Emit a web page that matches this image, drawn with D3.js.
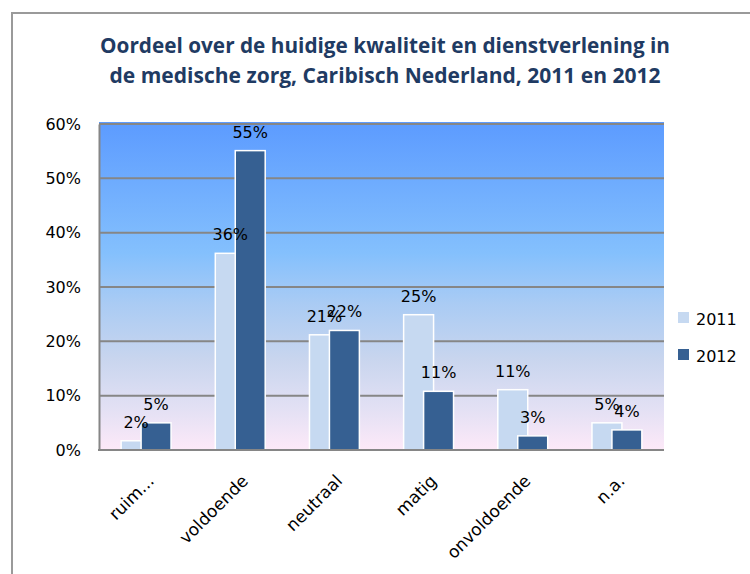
<!DOCTYPE html>
<html>
<head>
<meta charset="utf-8">
<script src="https://cdn.jsdelivr.net/npm/d3@7"></script>
<style>
  body { margin: 0; background: #fff; }
  svg { display: block; font-family: "DejaVu Sans", sans-serif; }
</style>
</head>
<body>
<div id="chart"></div>
<script>
// data
const categories = ["ruim...", "voldoende", "neutraal", "matig", "onvoldoende", "n.a."];
const years = ["2011", "2012"];
const values2011 = [1.7, 36.2, 21.2, 24.9, 11.1, 5.0];
const values2012 = [5.0, 55.1, 22.0, 10.8, 2.6, 3.7];
const yTicks = [0, 10, 20, 30, 40, 50, 60];
const titleLines = [
  "Oordeel over de huidige kwaliteit en dienstverlening in",
  "de medische zorg, Caribisch Nederland, 2011 en 2012"
];

const w = 750, h = 574;
const pLeft = 99, pRight = 664, pTop = 124, pBottom = 450;
const colors = {"2011": "#c6d9f1", "2012": "#366092"};

const svg = d3.select("#chart").append("svg")
  .attr("width", w).attr("height", h);

// outer frame
svg.append("rect")
  .attr("x", 12).attr("y", 13)
  .attr("width", w + 20).attr("height", h + 20)
  .attr("fill", "none").attr("stroke", "#9a9a9a").attr("stroke-width", 2);

// title
const title = svg.append("text")
  .attr("text-anchor", "middle")
  .attr("fill", "#1f3b63")
  .style("font-family", "'Open Sans', sans-serif")
  .style("font-weight", "bold")
  .style("font-size", "22px");
title.selectAll("tspan").data(titleLines).enter().append("tspan")
  .attr("x", 385)
  .attr("y", (d, i) => 53 + i * 30)
  .attr("textLength", (d, i) => i === 0 ? 570 : 551)
  .attr("lengthAdjust", "spacingAndGlyphs")
  .text(d => d);

// background gradient
const grad = svg.append("defs").append("linearGradient")
  .attr("id", "bg").attr("x1", 0).attr("y1", 0).attr("x2", 0).attr("y2", 1);
[["0%", "#5c9bff"], ["40%", "#84c0fd"], ["55%", "#a9cbf4"], ["72%", "#c8d5ee"], ["87%", "#e2e0f4"], ["100%", "#fde9f8"]]
  .forEach(s => grad.append("stop").attr("offset", s[0]).attr("stop-color", s[1]));

svg.append("rect")
  .attr("x", pLeft).attr("y", pTop - 2)
  .attr("width", pRight - pLeft).attr("height", pBottom - pTop + 2)
  .attr("fill", "url(#bg)");

// scales: overlapping bar pair inside each category band
const x = d3.scaleBand().domain(categories).range([pLeft, pRight]).paddingInner(0.47).paddingOuter(0.235);
const barW = x.bandwidth() * 0.6;
const xs = d3.scalePoint().domain(years).range([0, x.bandwidth() - barW]);
const y = d3.scaleLinear().domain([0, 60]).range([pBottom, pTop]);

// gridlines
svg.append("g").selectAll("line").data(yTicks.filter(t => t > 0)).enter().append("line")
  .attr("x1", pLeft).attr("x2", pRight)
  .attr("y1", d => y(d)).attr("y2", d => y(d))
  .attr("stroke", "#868686").attr("stroke-width", 2);

// y axis
const yAxis = svg.append("g")
  .attr("transform", `translate(${pLeft},0)`)
  .call(d3.axisLeft(y).tickValues(yTicks).tickFormat(d => d + "%").tickSize(0).tickPadding(18));
yAxis.select(".domain").attr("stroke", "#868686").attr("stroke-width", 2);
yAxis.selectAll("text")
  .style("font-family", "'DejaVu Sans', sans-serif")
  .style("font-size", "16px").attr("fill", "#000");

// bars
const rows = categories.map((c, i) => ({cat: c, vals: [
  {year: "2011", v: values2011[i]}, {year: "2012", v: values2012[i]}
]}));

const groups = svg.append("g").selectAll("g").data(rows).enter().append("g")
  .attr("transform", d => `translate(${x(d.cat)},0)`);

groups.selectAll("rect").data(d => d.vals).enter().append("rect")
  .attr("x", d => xs(d.year))
  .attr("width", barW)
  .attr("y", d => y(d.v))
  .attr("height", d => pBottom - y(d.v))
  .attr("fill", d => colors[d.year])
  .attr("stroke", "#fff").attr("stroke-width", 1.5);

groups.selectAll("text").data(d => d.vals).enter().append("text")
  .attr("x", d => xs(d.year) + barW / 2)
  .attr("y", d => y(d.v) - 13)
  .attr("text-anchor", "middle")
  .style("font-size", "16px")
  .attr("fill", "#000")
  .text(d => Math.round(d.v) + "%");

// x axis line
svg.append("line")
  .attr("x1", pLeft - 1).attr("x2", pRight)
  .attr("y1", pBottom).attr("y2", pBottom)
  .attr("stroke", "#868686").attr("stroke-width", 2);

// x labels (rotated)
svg.append("g").selectAll("text").data(categories).enter().append("text")
  .attr("transform", d => `translate(${x(d) + x.bandwidth() / 2 + 9},${482}) rotate(-45)`)
  .attr("text-anchor", "end")
  .style("font-size", "17px")
  .attr("fill", "#000")
  .text(d => d);

// legend
const legend = svg.append("g").selectAll("g").data(years).enter().append("g")
  .attr("transform", (d, i) => `translate(678,${312 + i * 37})`);
legend.append("rect")
  .attr("width", 11).attr("height", 11)
  .attr("fill", d => colors[d]);
legend.append("text")
  .attr("x", 18).attr("y", 13)
  .style("font-size", "16px")
  .attr("fill", "#000")
  .text(d => d);
</script>
</body>
</html>
